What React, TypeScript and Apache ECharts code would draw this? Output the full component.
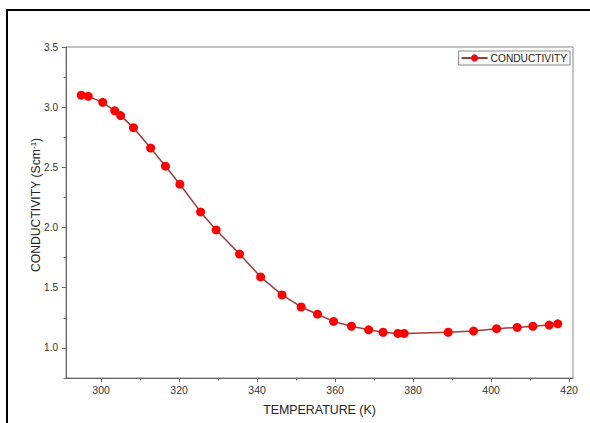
import React, { useEffect, useRef } from "react";
import * as echarts from "echarts";

const temperature = [294.9, 296.7, 300.4, 303.5, 305.0, 308.3, 312.7, 316.5, 320.2, 325.5, 329.5, 335.5, 340.9, 346.4, 351.3, 355.5, 359.6, 364.2, 368.6, 372.3, 376.1, 377.7, 389.0, 395.5, 401.4, 406.7, 410.7, 414.9, 417.1];
const conductivity = [3.10, 3.09, 3.04, 2.97, 2.93, 2.83, 2.66, 2.51, 2.36, 2.13, 1.98, 1.78, 1.59, 1.44, 1.34, 1.28, 1.22, 1.18, 1.15, 1.13, 1.12, 1.12, 1.13, 1.14, 1.16, 1.17, 1.18, 1.19, 1.20];
const xMajorTicks = [300, 320, 340, 360, 380, 400, 420];
const xMinorTicks = [310, 330, 350, 370, 390, 410];
const yMajorTicks = [1.0, 1.5, 2.0, 2.5, 3.0, 3.5];
const yMinorTicks = [0.75, 1.25, 1.75, 2.25, 2.75, 3.25];
const seriesName = "CONDUCTIVITY";
const xTitle = "TEMPERATURE (K)";
const yTitle = "CONDUCTIVITY (Scm{sup|-1})";

const FONT = "'Liberation Sans', Arial, sans-serif";
const AXIS_COLOR = "#666";

export default function App() {
  const ref = useRef<HTMLDivElement>(null);
  useEffect(() => {
    if (!ref.current) return;
    const chart = echarts.init(ref.current, null, { renderer: "svg" });
    const xBase = {
      type: "value",
      min: 291,
      max: 421,
      splitLine: { show: false },
    };
    const yBase = {
      type: "value",
      min: 0.75,
      max: 3.5,
      splitLine: { show: false },
    };
    chart.setOption({
      animation: false,
      backgroundColor: "#fff",
      textStyle: { fontFamily: FONT },
      grid: {
        left: 66,
        top: 47,
        right: 17,
        bottom: 45,
        show: true,
        borderColor: "#888",
        borderWidth: 1,
        backgroundColor: "transparent",
      },
      legend: {
        data: [seriesName],
        right: 20,
        top: 51,
        itemWidth: 26,
        itemHeight: 9,
        padding: [2, 3, 2, 2],
        borderColor: "#888",
        borderWidth: 1,
        textStyle: { fontFamily: FONT, fontSize: 10.2, color: "#222", padding: [0, 0, 0, -2] },
      },
      xAxis: [
        {
          ...xBase,
          name: xTitle,
          nameLocation: "middle",
          nameGap: 26,
          nameTextStyle: { fontFamily: FONT, fontSize: 12.4, color: "#222" },
          axisLine: { show: true, lineStyle: { color: AXIS_COLOR, width: 1 } },
          axisTick: {
            show: true,
            length: 4,
            lineStyle: { color: AXIS_COLOR },
            customValues: xMajorTicks,
          },
          axisLabel: {
            show: true,
            fontFamily: FONT,
            fontSize: 10.5,
            color: "#333",
            margin: 6,
            customValues: xMajorTicks,
          },
        },
        {
          ...xBase,
          position: "bottom",
          axisLine: { show: false },
          axisTick: {
            show: true,
            length: 2.5,
            lineStyle: { color: AXIS_COLOR },
            customValues: xMinorTicks,
          },
          axisLabel: { show: false },
        },
      ],
      yAxis: [
        {
          ...yBase,
          axisLine: { show: true, lineStyle: { color: AXIS_COLOR, width: 1 } },
          axisTick: {
            show: true,
            length: 4,
            lineStyle: { color: AXIS_COLOR },
            customValues: yMajorTicks,
          },
          axisLabel: {
            show: true,
            fontFamily: FONT,
            fontSize: 10,
            color: "#333",
            margin: 8,
            customValues: yMajorTicks,
            formatter: (v: number) => v.toFixed(1),
          },
        },
        {
          ...yBase,
          position: "left",
          axisLine: { show: false },
          axisTick: {
            show: true,
            length: 2.5,
            lineStyle: { color: AXIS_COLOR },
            customValues: yMinorTicks,
          },
          axisLabel: { show: false },
        },
      ],
      graphic: [
        {
          type: "rect",
          shape: { x: 7, y: 10, width: 700, height: 600 },
          style: { fill: "none", stroke: "#000", lineWidth: 2 },
          silent: true,
          z: 100,
        },
        {
          type: "text",
          x: 36,
          y: 205,
          rotation: Math.PI / 2,
          silent: true,
          style: {
            text: yTitle,
            fontFamily: FONT,
            fontSize: 12.2,
            fill: "#222",
            align: "center",
            verticalAlign: "middle",
            rich: {
              sup: { fontFamily: FONT, fontSize: 8, verticalAlign: "top", padding: [0, 0, 6, 0], fill: "#222" },
            },
          },
        },
      ],
      series: [
        {
          name: seriesName,
          type: "line",
          xAxisIndex: 0,
          yAxisIndex: 0,
          data: temperature.map((t, i) => [t, conductivity[i]]),
          symbol: "circle",
          symbolSize: 9,
          lineStyle: { color: "#a33a3a", width: 1.5 },
          itemStyle: { color: "#ff0000", borderWidth: 0 },
          emphasis: { disabled: true },
        },
      ],
    });
    return () => chart.dispose();
  }, []);
  return (
    <div
      ref={ref}
      style={{ position: "fixed", left: 0, top: 0, width: 590, height: 423, background: "#fff" }}
    />
  );
}
